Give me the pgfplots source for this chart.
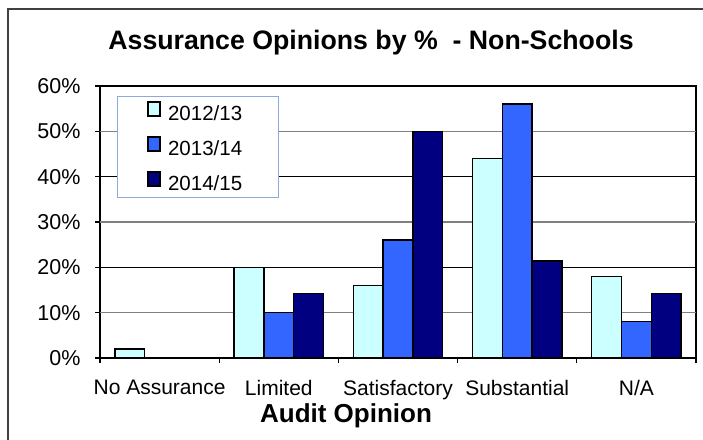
\documentclass[border=0pt]{standalone}
\usepackage{pgfplots}
\pgfplotsset{compat=1.18}
\usepackage{fontspec}
\setmainfont{Liberation Sans}
\definecolor{lightc}{HTML}{CCFFFF}
\definecolor{midb}{HTML}{3366FF}
\definecolor{navyb}{HTML}{000080}
\definecolor{legborder}{HTML}{8EAADB}
\pgfplotsset{
  sqleg/.style={legend image code/.code={\draw[##1, line width=1.2pt] (0pt,-2pt) rectangle (12pt,12pt);}},
}
\begin{document}
\begin{tikzpicture}[x=1pt,y=1pt]
\useasboundingbox (0,0) rectangle (703,439);
\fill[white] (0,0) rectangle (703,439);
% chart frame
\draw[black!75, line width=1.6pt] (8,-5) -- (8,430) -- (710,430);
\begin{axis}[
  at={(100pt,81pt)}, anchor=south west,
  scale only axis, width=596pt, height=272pt,
  xmin=0, xmax=5, ymin=0, ymax=60,
  ybar=0pt, bar width=29.8pt,
  axis line style={line width=1.8pt},
  tick align=outside, major tick length=5pt,
  xtick pos=bottom, ytick pos=left,
  xtick={0.5,1.5,2.5,3.5,4.5},
  xticklabels={No Assurance, Limited, Satisfactory, Substantial, N/A},
  xtick style={draw=none},
  extra x ticks={0,1,2,3,4,5}, extra x tick labels={},
  extra x tick style={xtick style={draw=black, line width=1.2pt}},
  ytick={0,20,40,60}, yticklabels={0\%,20\%,40\%,60\%},
  extra y ticks={10,30,50}, extra y tick labels={10\%,30\%,50\%},
  extra y tick style={grid style={black!50, line width=1.2pt}},
  ymajorgrids, grid style={black, line width=0.7pt},
  ytick style={black, line width=1.2pt},
  yticklabel style={font=\fontsize{21.5}{24}\selectfont, xshift=-11pt},
  xticklabel style={font=\fontsize{21}{24}\selectfont, yshift=-14pt},
  title={Assurance Opinions by \%\ \ - Non-Schools},
  title style={font=\bfseries\fontsize{26.7}{30}\selectfont, at={(axis description cs:0.4547,1.112)}, anchor=base},
  xlabel={Audit Opinion},
  xlabel style={font=\bfseries\fontsize{26}{30}\selectfont, at={(axis description cs:0.4128,-0.2353)}, anchor=base},
  legend style={at={(axis description cs:0.0285,0.963)}, anchor=north west,
    draw=legborder, line width=0.8pt, fill=white,
    font=\fontsize{20.5}{23}\selectfont,
    inner xsep=30pt, inner ysep=5pt, nodes={inner sep=0pt},
    row sep=14.2pt, column sep=7.5pt},
  legend cell align=left,
]
\addplot[fill=lightc, draw=black, line width=1.3pt, sqleg] coordinates {
  (0.5,2) (1.5,20) (2.5,16) (3.5,44) (4.5,18)};
\addlegendentry{\makebox[80pt][l]{2012/13}}
\addplot[fill=midb, draw=black, line width=1.3pt, sqleg] coordinates {
  (0.5,0) (1.5,10) (2.5,26) (3.5,56) (4.5,8)};
\addlegendentry{\makebox[80pt][l]{2013/14}}
\addplot[fill=navyb, draw=black, line width=1.3pt, sqleg] coordinates {
  (0.5,0) (1.5,14.29) (2.5,50) (3.5,21.43) (4.5,14.29)};
\addlegendentry{\makebox[80pt][l]{2014/15}\rule[-10pt]{0pt}{10pt}}
\end{axis}
\end{tikzpicture}
\end{document}
